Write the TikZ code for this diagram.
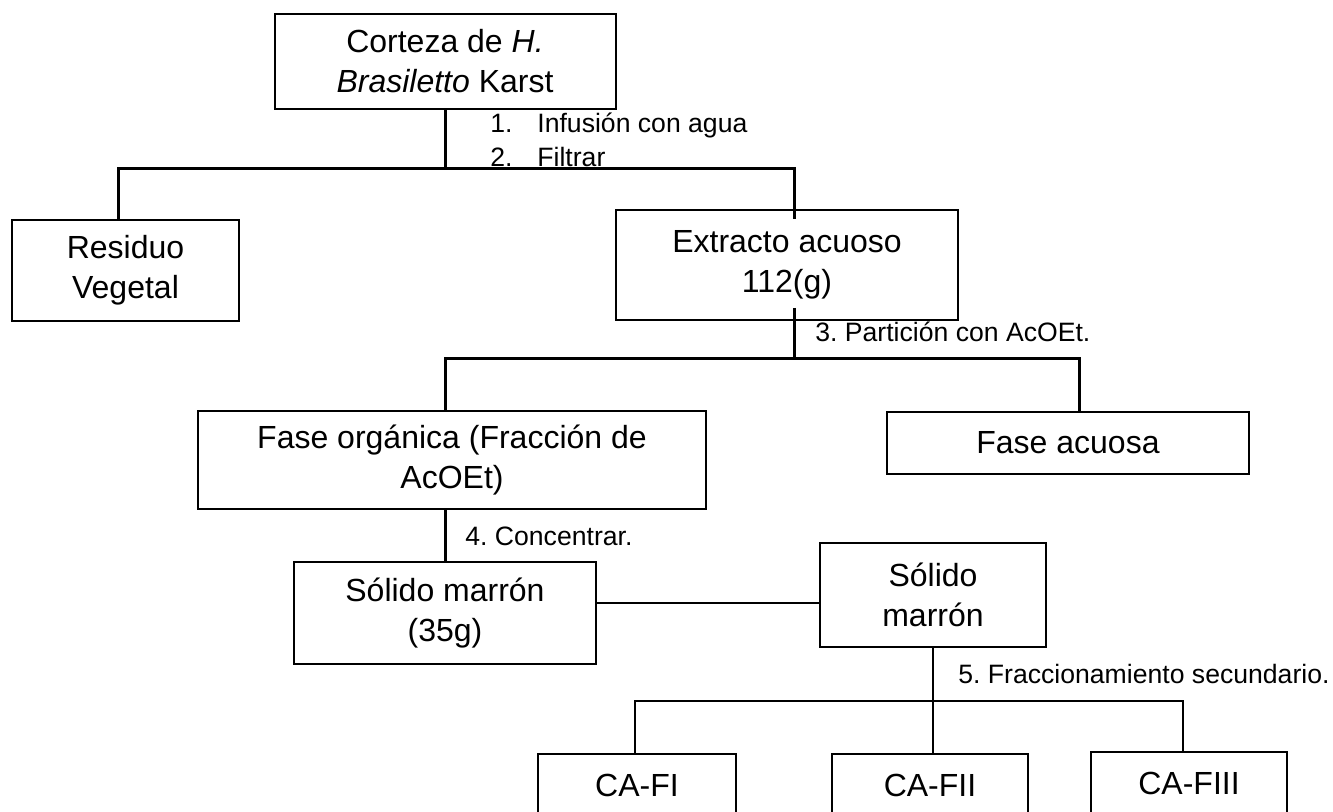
\documentclass[tikz,border=0pt]{standalone}
\usepackage{fontspec}
\setmainfont{Liberation Sans}
\usepackage{tikz}
\usetikzlibrary{calc}
\usetikzlibrary{positioning}
\definecolor{fc-line}{HTML}{000000}
\definecolor{fc-text}{HTML}{000000}
\frenchspacing

\begin{document}
\begin{tikzpicture}[x=0.5pt, y=-0.5pt,
    box/.style={draw=fc-line, line width=1pt, rectangle, inner sep=0pt, align=center, text=fc-text, font=\fontsize{16}{20}\selectfont},
    note/.style={anchor=base west, inner sep=0pt, text=fc-text, font=\fontsize{13.3}{16}\selectfont},
    trunk/.style={fc-line, line width=1.5pt},
    twig/.style={fc-line, line width=1pt}]
    \path[use as bounding box, fill=white] (0,0) rectangle (1333,812);

    % --- Boxes ---
    \node[box, minimum width=170.5pt, minimum height=47.5pt] (corteza) at (445,61.5) {Corteza de \textit{H.}\\\textit{Brasiletto} Karst};
    \node[box, minimum width=113.5pt, minimum height=50.5pt] (residuo) at (125.5,270.5) {Residuo\\Vegetal};
    \node[box, minimum width=171pt, minimum height=55pt] (extracto) at (787,265) {Extracto acuoso\\112(g)};
    \node[box, minimum width=254pt, minimum height=49pt] (organica) at (452,460) {Fase orgánica (Fracción de\\AcOEt)};
    \node[box, minimum width=181pt, minimum height=31pt] (acuosa) at (1068,443) {Fase acuosa};
    \node[box, minimum width=151pt, minimum height=51pt] (solidoA) at (445,613) {Sólido marrón\\(35g)};
    \node[box, minimum width=113pt, minimum height=52pt] (solidoB) at (933,595) {Sólido\\marrón};
    \node[box, minimum width=99pt, minimum height=31pt] (cafi) at (637,785) {CA-FI};
    \node[box, minimum width=98pt, minimum height=31pt] (cafii) at (930,785) {CA-FII};
    \node[box, minimum width=98pt, minimum height=31pt] (cafiii) at (1189,783) {CA-FIII};

    % --- Step labels ---
    \node[note] (step1n) at (490,133) {1.};
    \node[note] (step1) at (537,133) {Infusión con agua};
    \node[note] (step2n) at (490,167) {2.};
    \node[note] (step2) at (537,167) {Filtrar};
    \node[note] (step3) at (815,342) {3. Partición con AcOEt.};
    \node[note] (step4) at (465,545) {4. Concentrar.};
    \node[note] (step5) at (958,683) {5. Fraccionamiento secundario.};

    % Infusion and filtering
    \coordinate (split1) at ($(corteza.south)+(0,59)$);
    \draw[trunk] (corteza.south) -- (split1);
    \draw[trunk] ([xshift=-3.75pt]residuo.north) |- ([xshift=3.5pt]extracto.north |- split1)
        -- ([xshift=3.5pt,yshift=-5pt]extracto.north);

    % Partition with AcOEt
    \coordinate (split2) at ($(extracto.south)+(7,38)$);
    \draw[trunk] ([xshift=3.5pt,yshift=6.5pt]extracto.south) -- (split2);
    \draw[trunk] ([xshift=-3.5pt]organica.north) |- (split2) -| ([xshift=5.5pt]acuosa.north);

    % Concentrate
    \draw[trunk] ([xshift=-3.5pt]organica.south) -- (solidoA.north);
    \draw[twig] ([yshift=5pt]solidoA.east) -- ([yshift=5pt]solidoA.east -| solidoB.west);

    % Secondary fractionation
    \coordinate (split3) at ($(solidoB.south)+(0,53)$);
    \draw[twig] (solidoB.south) -- (split3);
    \draw[twig] ([xshift=-1pt]cafi.north) |- (split3) -| ([xshift=-3pt]cafiii.north);
    \draw[twig] (split3) -- (split3 |- cafii.north);
\end{tikzpicture}
\end{document}
